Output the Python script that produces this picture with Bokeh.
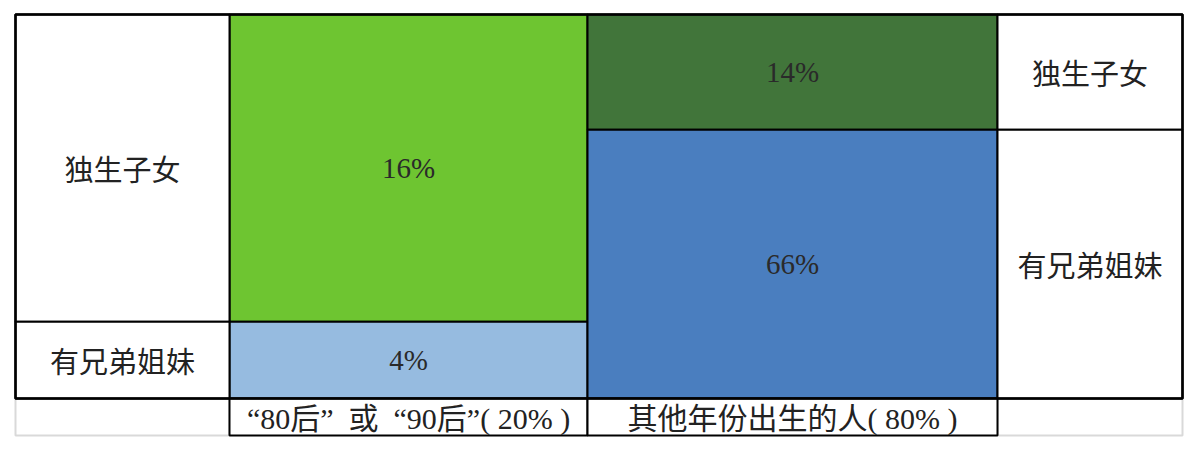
from bokeh.plotting import figure
from bokeh.models import Range1d
from bokeh.core.properties import value
from bokeh.embed import file_html
from bokeh.resources import INLINE

# ---- data ----
group_labels = ["“80后”\u2002或\u2002“90后”", "其他年份出生的人"]
group_shares = [20, 80]
status_labels = ["独生子女", "有兄弟姐妹"]
share_8090 = [16, 4]
share_other = [14, 66]
cell_colors_8090 = ["#6ec531", "#96bbe0"]
cell_colors_other = ["#41753a", "#4a7ebf"]

# ---- layout (pixels) ----
X0, Y0 = 15, 14
COL_W = [214, 358, 410, 185]
MAIN_H = 384
FOOT_H = 37
ROW_SPLIT = [0.8, 0.3]   # fraction of main height for the first row in each group column

W, H = 1189, 442
p = figure(width=W, height=H, output_backend="svg", toolbar_location=None,
           x_range=Range1d(0, W), y_range=Range1d(H, 0),
           min_border=0, outline_line_color=None,
           x_axis_location=None, y_axis_location=None)
p.grid.visible = False
p.background_fill_color = "white"
p.border_fill_color = "white"

xs = [X0]
for w in COL_W:
    xs.append(xs[-1] + w)
y_top = Y0
y_main_bot = Y0 + MAIN_H
y_foot_bot = y_main_bot + FOOT_H

cjk = value("'Noto Sans CJK SC'")
mixed = value("'Liberation Serif', 'Noto Sans CJK SC'")
serif = value("'Liberation Serif'")

# footer outer cells (light grey)
p.quad(left=[xs[0], xs[3]], right=[xs[1], xs[4]], top=[y_main_bot]*2, bottom=[y_foot_bot]*2,
       fill_color="white", line_color="#d9d9d9", line_width=2)

# group cells
groups = [share_8090, share_other]
colors = [cell_colors_8090, cell_colors_other]
L, R, T, B, C, TX, TY, TT = [], [], [], [], [], [], [], []
for gi, (vals, cols) in enumerate(zip(groups, colors)):
    left, right = xs[gi + 1], xs[gi + 2]
    split = y_top + MAIN_H * ROW_SPLIT[gi]
    bounds = [(y_top, split), (split, y_main_bot)]
    for (t, b), v, c in zip(bounds, vals, cols):
        L.append(left); R.append(right); T.append(t); B.append(b); C.append(c)
        TX.append((left + right) / 2); TY.append((t + b) / 2); TT.append(f"{v}%")
p.quad(left=L, right=R, top=T, bottom=B, fill_color=C, line_color="black", line_width=2)
p.text(x=TX, y=TY, text=TT, text_align="center", text_baseline="middle",
       text_font=serif, text_font_size="29px", text_color="#2a2a2a")

# label cells (left uses first group split, right uses second group split)
LL, LR, LT, LB, LX, LY, LTXT = [], [], [], [], [], [], []
for ci, gi in [(0, 0), (3, 1)]:
    left, right = xs[ci], xs[ci + 1]
    split = y_top + MAIN_H * ROW_SPLIT[gi]
    bounds = [(y_top, split), (split, y_main_bot)]
    for (t, b), lab in zip(bounds, status_labels):
        LL.append(left); LR.append(right); LT.append(t); LB.append(b)
        LX.append((left + right) / 2); LY.append((t + b) / 2); LTXT.append(lab)
p.quad(left=LL, right=LR, top=LT, bottom=LB, fill_color="white", line_color="black", line_width=2)
p.text(x=LX, y=LY, text=LTXT, text_align="center", text_baseline="middle",
       text_font=cjk, text_font_size="29px", text_color="#222222")

# footer group cells
FL, FR, FX, FT = [], [], [], []
for gi, (lab, sh) in enumerate(zip(group_labels, group_shares)):
    left, right = xs[gi + 1], xs[gi + 2]
    FL.append(left); FR.append(right); FX.append((left + right) / 2)
    FT.append(f"{lab}( {sh}% )")
p.quad(left=FL, right=FR, top=[y_main_bot]*2, bottom=[y_foot_bot]*2,
       fill_color="white", line_color="black", line_width=2)
p.text(x=FX, y=[(y_main_bot + y_foot_bot) / 2 + 1]*2, text=FT, text_align="center",
       text_baseline="middle", text_font=mixed, text_font_size="30px", text_color="#222222")

# outer frame of main table
p.quad(left=[xs[0]], right=[xs[4]], top=[y_top], bottom=[y_main_bot],
       fill_color=None, line_color="black", line_width=2.5)

open("out.html", "w").write(file_html(p, INLINE))
